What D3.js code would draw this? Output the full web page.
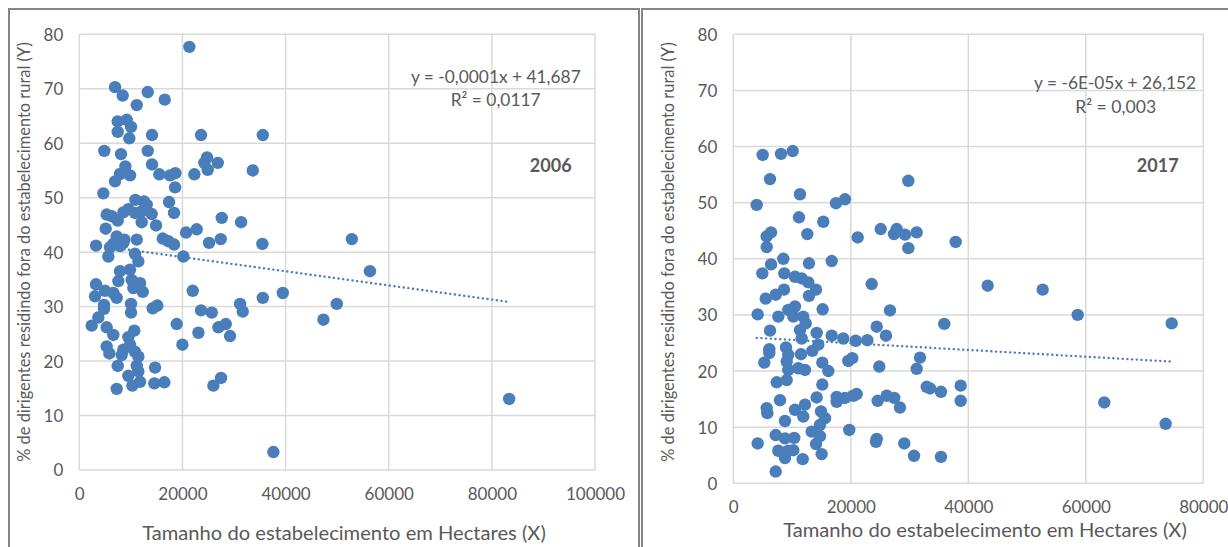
<!DOCTYPE html>
<meta charset="utf-8">
<script src="https://d3js.org/d3.v7.min.js"></script>
<style>
  body { margin: 0; background: #fff; }
  text { font-family: Lato, "Open Sans", sans-serif; fill: #595959; }
</style>
<body>
<div id="draw"></div>
</body>
<script>

// --- data ---
var xTitle = "Tamanho do estabelecimento em Hectares (X)";
var yTitle = "% de dirigentes residindo fora do estabelecimento rural (Y)";
var years = ["2006", "2017"];
var yTicks = [0, 10, 20, 30, 40, 50, 60, 70, 80];
var xTicks2006 = [0, 20000, 40000, 60000, 80000, 100000];
var xTicks2017 = [0, 20000, 40000, 60000, 80000];
var equations = ["y = -0,0001x + 41,687", "y = -6E-05x + 26,152"];
var r2Labels = ["R\u00b2 = 0,0117", "R\u00b2 = 0,003"];
var slopes = [-0.00013, -0.00006];
var intercepts = [41.687, 26.152];

var pts2006 = [
  [21340,77.7],[6930,70.3],[8420,68.75],[13270,69.4],[11140,67.0],[16570,68.0],
  [7450,64.0],[9200,64.3],[10030,63.0],[7450,62.1],[9700,60.9],[14100,61.5],[23610,61.5],[35580,61.5],
  [4850,58.6],[8090,58.0],[13270,58.6],[24770,57.4],[24250,56.4],[26850,56.4],[24900,55.1],[33640,55.0],
  [14100,56.1],[8930,55.75],[7900,54.35],[9840,54.1],[6930,53.0],[15520,54.3],[17600,54.1],[18630,54.5],
  [18570,51.9],[22310,54.3],[4660,50.8],
  [10870,49.6],[12550,49.3],[13080,48.7],[14040,47.0],[9510,47.9],[8540,47.3],[12100,47.5],[5310,46.9],
  [6280,46.6],[7450,45.8],[12100,45.5],[14880,44.9],[5120,44.3],[17400,49.2],[18370,47.2],[27620,46.3],
  [31370,45.5],[20700,43.6],[22770,44.2],[10800,47.2],
  [3240,41.2],[7250,42.9],[8740,42.3],[11140,42.3],[5960,40.9],[7900,41.1],[8540,41.7],[6600,41.5],
  [16180,42.5],[17270,42.0],[18370,41.4],[25160,41.7],[27430,42.4],[35500,41.5],
  [5630,39.2],[10800,39.7],[11450,38.3],[20180,39.2],
  [7900,36.5],[9840,36.8],[7570,34.7],[10160,34.9],[11780,34.3],[10480,33.4],[12300,32.7],[3240,34.1],
  [3050,31.9],[4990,32.9],[6600,32.5],[7250,31.6],[22000,32.9],[35580,31.6],[39460,32.5],[4790,30.3],
  [4790,29.6],[10030,30.5],[10030,28.9],[14240,29.7],[15130,30.2],[23610,29.3],[25690,28.9],[31180,30.5],
  [31700,29.1],
  [3690,28.0],[2400,26.5],[5310,26.2],[6600,24.8],[18890,26.8],[23090,25.2],[26970,26.2],[28400,26.8],
  [29240,24.6],[10670,25.6],[9510,24.4],[9840,23.0],[8540,22.1],[8220,21.1],[10800,21.7],[11450,20.8],
  [5310,22.7],[5830,21.4],[19990,23.0],
  [7450,19.1],[11140,19.1],[11450,18.1],[9510,17.3],[11780,16.2],[10290,15.5],[7250,14.9],[14690,18.8],
  [14550,15.9],[16490,16.1],[26000,15.5],[27490,16.9],[37640,3.3],
  [52840,42.4],[56360,36.5],[49930,30.5],[47340,27.6],[83360,13.05]
];

var pts2017 = [
  [5000,58.5],[8120,58.7],[10110,59.2],[6250,54.2],[11350,51.5],[3980,49.6],[17480,49.9],[19010,50.6],
  [11180,47.4],[15320,46.6],[6420,44.7],[5680,44.0],[12600,44.4],[5680,42.1],[21170,43.8],[25090,45.3],
  [27810,45.3],[27350,44.4],[29220,44.3],[31210,44.7],[29790,41.9],[29790,53.9],[37850,43.0],
  [8510,40.0],[6420,39.0],[12880,39.2],[16750,39.6],
  [4940,37.4],[8680,37.4],[10500,36.8],[11640,36.5],[12770,35.8],[14080,34.5],[8630,34.5],[7220,33.6],
  [5520,32.9],[12880,33.4],[23550,35.5],
  [4150,30.1],[7660,29.7],[9360,30.9],[10500,31.5],[10210,29.7],[11910,29.7],[12320,28.5],[15210,31.0],
  [6250,27.2],[11350,27.3],[14190,26.8],[11640,25.8],[16750,26.3],[18720,25.8],[20830,25.4],[22810,25.5],
  [24410,27.9],[25990,26.3],[26670,30.8],[35910,28.4],
  [6130,23.9],[6130,23.2],[5280,21.5],[8970,24.2],[9360,22.9],[9090,21.7],[9360,20.2],[11520,23.0],
  [11060,20.5],[12200,20.2],[13450,23.6],[14470,24.7],[15150,21.5],[16170,20.0],[19570,21.8],[20250,22.3],
  [24850,20.8],[31780,22.4],[31210,20.4],
  [7390,18.0],[9090,18.4],[15150,17.6],[32920,17.2],[33480,16.9],[35350,16.3],[38700,17.4],[38700,14.7],
  [7950,14.8],[14190,15.3],[17600,15.4],[17600,14.5],[19010,15.2],[20420,15.6],[21000,15.9],[24570,14.7],
  [26110,15.6],[27400,15.2],[28370,13.5],
  [5680,13.4],[5790,12.5],[10500,13.1],[12200,14.0],[11910,11.9],[8800,11.1],[14930,12.8],[15610,11.6],
  [14760,10.4],[19740,9.5],[13340,9.2],[14760,8.4],[7220,8.6],[8800,8.0],[10380,8.1],[4150,7.1],
  [24410,7.9],[24290,7.4],[29100,7.1],[7660,5.8],[9360,5.8],[10210,5.9],[8800,4.5],[11810,4.3],
  [14080,7.0],[15040,5.2],[30760,4.9],[35350,4.7],[7220,2.1],
  [43300,35.2],[52660,34.5],[58620,30.0],[74620,28.5],[63140,14.4],[73590,10.6]
];

// --- layout ---
var width = 1228, height = 547;
var blue = "#4a7ebb";
var grid = "#d9d9d9";

var panels = [
  { pts: pts2006, xTicks: xTicks2006, xMax: 100000,
    frame: {x: 9, y: 9, w: 630, h: 600},
    plot: {left: 79.3, right: 595, top: 34.3, bottom: 470},
    xTitlePos: [344, 533], yTitlePos: [24, 252],
    eqPos: [580.7, 77], r2Pos: [495.7, 100], yearPos: [550.7, 165.7] },
  { pts: pts2017, xTicks: xTicks2017, xMax: 80000,
    frame: {x: 642, y: 9, w: 640, h: 600},
    plot: {left: 733.3, right: 1203.3, top: 34.3, bottom: 483.3},
    xTitlePos: [985, 530], yTitlePos: [668, 252],
    eqPos: [1196, 82.7], r2Pos: [1115.7, 106.7], yearPos: [1157.7, 165.7] }
];

var svg = d3.select("#draw")
  .append("svg")
  .attr("width", width)
  .attr("height", height);

// shrink/grow font so a text fits the width measured on the picture
var fitText = function(sel, target) {
  var w = sel.node().getComputedTextLength();
  var fs = parseFloat(sel.attr("font-size"));
  sel.attr("font-size", fs * target / w);
};

panels.forEach(function(p, i) {
  var g = svg.append("g");

  g.append("rect")
    .attr("x", p.frame.x).attr("y", p.frame.y)
    .attr("width", p.frame.w).attr("height", p.frame.h)
    .attr("fill", "none").attr("stroke", "#868686").attr("stroke-width", 2);

  var x = d3.scaleLinear().domain([0, p.xMax]).range([p.plot.left, p.plot.right]);
  var y = d3.scaleLinear().domain([0, 80]).range([p.plot.bottom, p.plot.top]);

  // gridlines
  g.selectAll(".hgrid").data(yTicks).enter().append("line")
    .attr("x1", p.plot.left).attr("x2", p.plot.right)
    .attr("y1", function(d){ return y(d); }).attr("y2", function(d){ return y(d); })
    .attr("stroke", grid).attr("stroke-width", 1.5);
  g.selectAll(".vgrid").data(p.xTicks).enter().append("line")
    .attr("y1", p.plot.top).attr("y2", p.plot.bottom)
    .attr("x1", function(d){ return x(d); }).attr("x2", function(d){ return x(d); })
    .attr("stroke", grid).attr("stroke-width", 1.5);

  // axes (labels only)
  var yAxis = g.append("g")
    .attr("transform", "translate(" + (p.plot.left - 16) + ",0)")
    .call(d3.axisLeft(y).tickValues(yTicks).tickSize(0).tickPadding(0).tickFormat(d3.format("d")));
  var xAxis = g.append("g")
    .attr("transform", "translate(0," + (p.plot.bottom + 18) + ")")
    .call(d3.axisBottom(x).tickValues(p.xTicks).tickSize(0).tickPadding(0).tickFormat(d3.format("d")));
  [yAxis, xAxis].forEach(function(a) {
    a.select(".domain").remove();
    a.selectAll("text").attr("font-size", 17).style("font-family", "Lato").attr("fill", "#595959");
  });
  yAxis.selectAll("text").attr("dy", "0.35em");
  xAxis.selectAll("text").attr("dy", "0.71em");

  // trendline, from the smallest to the largest x of the data
  var xr = d3.extent(p.pts, function(d){ return d[0]; });
  g.append("line")
    .attr("x1", x(xr[0])).attr("y1", y(slopes[i] * xr[0] + intercepts[i]))
    .attr("x2", x(xr[1])).attr("y2", y(slopes[i] * xr[1] + intercepts[i]))
    .attr("stroke", blue).attr("stroke-width", 2.4)
    .attr("stroke-linecap", "round").attr("stroke-dasharray", "0.1 4.6");

  // points
  g.selectAll("circle").data(p.pts).enter().append("circle")
    .attr("cx", function(d){ return x(d[0]); })
    .attr("cy", function(d){ return y(d[1]); })
    .attr("r", 6.2)
    .attr("fill", blue);

  // titles
  var xt = g.append("text")
    .attr("x", p.xTitlePos[0]).attr("y", p.xTitlePos[1]).attr("dy", "0.35em")
    .attr("text-anchor", "middle").attr("font-size", 18).text(xTitle);
  fitText(xt, 404);

  var yt = g.append("text")
    .attr("transform", "translate(" + p.yTitlePos[0] + "," + p.yTitlePos[1] + ") rotate(-90)")
    .attr("dy", "0.35em").attr("text-anchor", "middle").attr("font-size", 15).text(yTitle);
  fitText(yt, 420);

  var eq = g.append("text")
    .attr("x", p.eqPos[0]).attr("y", p.eqPos[1]).attr("dy", "0.35em")
    .attr("text-anchor", "end").attr("font-size", 15).text(equations[i]);
  fitText(eq, i === 0 ? 170 : 162);

  var r2 = g.append("text")
    .attr("x", p.r2Pos[0]).attr("y", p.r2Pos[1]).attr("dy", "0.35em")
    .attr("text-anchor", "middle").attr("font-size", 15).text(r2Labels[i]);
  fitText(r2, i === 0 ? 90 : 81);

  g.append("text")
    .attr("x", p.yearPos[0]).attr("y", p.yearPos[1]).attr("dy", "0.35em")
    .attr("text-anchor", "middle").attr("font-size", 18).attr("font-weight", "bold")
    .text(years[i]);
});

</script>
